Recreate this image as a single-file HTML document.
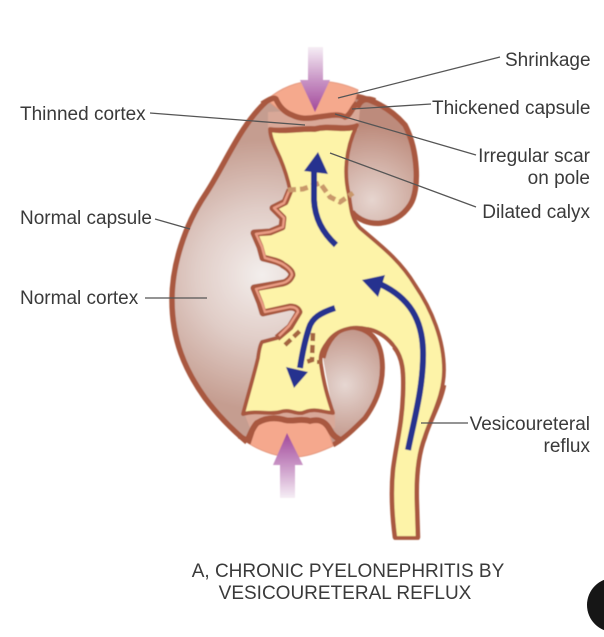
<!DOCTYPE html>
<html>
<head>
<meta charset="utf-8">
<style>
html,body{margin:0;padding:0;background:#fff;}
svg{display:block;}
text{font-family:"Liberation Sans",sans-serif;font-size:19px;fill:#3a3a3a;}
</style>
</head>
<body>
<svg width="604" height="637" viewBox="0 0 604 637" xmlns="http://www.w3.org/2000/svg">
<defs>
<radialGradient id="c1" gradientUnits="userSpaceOnUse" cx="262" cy="275" r="135">
<stop offset="0" stop-color="#f3eeec"/>
<stop offset="0.5" stop-color="#e0ccc6"/>
<stop offset="1" stop-color="#c59d90"/>
</radialGradient>
<radialGradient id="c2" gradientUnits="userSpaceOnUse" cx="372" cy="200" r="75">
<stop offset="0" stop-color="#e6d5cf"/>
<stop offset="1" stop-color="#bd8b7c"/>
</radialGradient>
<radialGradient id="c3" gradientUnits="userSpaceOnUse" cx="345" cy="385" r="65">
<stop offset="0" stop-color="#e6d7d2"/>
<stop offset="1" stop-color="#bd8d7f"/>
</radialGradient>
<linearGradient id="a1" x1="0" y1="47" x2="0" y2="112" gradientUnits="userSpaceOnUse">
<stop offset="0" stop-color="#f6eef5"/>
<stop offset="0.5" stop-color="#c996c6"/>
<stop offset="1" stop-color="#a2489a"/>
</linearGradient>
<linearGradient id="a2" x1="0" y1="498" x2="0" y2="433" gradientUnits="userSpaceOnUse">
<stop offset="0" stop-color="#f6eef5"/>
<stop offset="0.5" stop-color="#c996c6"/>
<stop offset="1" stop-color="#a2489a"/>
</linearGradient>
<filter id="b"><feGaussianBlur stdDeviation="0.5"/></filter>
</defs>

<g filter="url(#b)">
<!-- cortex body -->
<path d="M315 81 C295 81 275 90 262 104 C240 125 225 165 205 195 C185 225 172 265 172 300 C172 340 185 370 205 398 C220 418 235 432 247 442 L335 444 L322 360 L300 250 L350 218 L352 100 Z" fill="url(#c1)"/>
<path d="M355 96 C375 100 392 110 405 125 C418 150 420 190 410 205 C395 228 365 228 352 212 L345 170 L350 120 Z" fill="url(#c2)"/>
<path d="M323 358 C327 340 338 328 350 327 C370 328 380 340 382 360 C384 380 378 400 365 418 C355 428 345 438 333 445 L326 424 L333 413 Z" fill="url(#c3)"/>
<!-- pale bands between scar and pelvis -->
<path d="M268 112 L360 108 L358 130 L268 132 Z" fill="#d9a898"/>
<path d="M243 410 L335 410 L335 428 L250 428 Z" fill="#d9a898"/>

<!-- outer capsule -->
<path d="M267 101 C240 125 225 165 205 195 C185 225 172 265 172 300 C172 340 185 370 205 398 C220 418 235 432 247 442" fill="none" stroke="#a9593f" stroke-width="5.5"/>
<path d="M333 445 C345 438 355 428 365 418 C378 400 384 380 382 360 C380 340 370 328 350 327 C338 328 327 340 323 358" fill="none" stroke="#a9593f" stroke-width="5"/>
<path d="M355 96 C375 100 392 110 405 125 C418 150 420 190 410 205 C395 228 365 228 352 212" fill="none" stroke="#a9593f" stroke-width="5.5"/>

<!-- pink caps -->
<path d="M267 100 C280 88 298 81 315 81 C330 81 345 84 358 90 L352 110 L345 116 L310 120 L285 114 L272 104 Z" fill="#f5a98d" stroke="#e59a80" stroke-width="1"/>
<path d="M248 443 C262 452 280 458 297 457 C310 456 322 451 333 446 L326 424 L300 418 L262 422 L252 428 Z" fill="#f5a88d" stroke="#e59a80" stroke-width="1"/>

<!-- top scar -->
<path d="M262 104 C270 99 274 97 276 99 C279 106 284 112 292 115 C300 119 307 119 318 117 C328 116 338 113 345 117 C350 116 352 108 357 103" fill="none" stroke="#a9593f" stroke-width="5.5"/>
<path d="M357 108 C360 100 365 97 375 101" fill="none" stroke="#a9593f" stroke-width="6"/>
<!-- bottom scar -->
<path d="M247 441 C250 436 252 428 257 423 C265 418 275 417 285 420 C293 422 300 418 310 421 C318 419 325 420 330 430 C333 436 337 438 342 441" fill="none" stroke="#a9593f" stroke-width="6"/>
<path d="M239 436 L249 441 L252 432" fill="none" stroke="#a9593f" stroke-width="5"/>

<!-- pelvis + ureter -->
<path d="M270 129 C285 131 300 127 315 128 C330 124 345 130 357 125 C345 150 344 175 349 195 C351 210 352 220 360 228 C380 245 400 260 415 285 C432 310 444 340 444 370 C444 395 432 415 425 437 C418 455 416 480 417 505 L418 538 L395 538 C392 515 391 490 393 470 C396 445 402 425 403 395 C404 370 402 355 393 345 C385 335 375 330 367 329 C352 325 335 330 327 343 C320 352 320 358 321 365 C324 385 328 398 333 413 C322 412 315 408 305 412 C297 416 290 408 280 412 C270 415 258 410 243 414 C248 395 254 375 258 358 C259 350 260 345 262 342 L277 338 L290 327 L299 312 L290 307 L263 313 L260 303 L254 288 L283 283 L292 275 L283 265 L263 258 L260 247 L254 233 L270 232 L282 227 L283 218 L273 208 L285 202 L290 190 C288 180 285 170 280 158 C275 147 270 138 270 129 Z" fill="#fdf3a8" stroke="#a9593f" stroke-width="3.8" stroke-linejoin="round"/>

<!-- calyx double wall -->
<path d="M290 190 L285 202 L273 208 L283 218 L282 227 L270 232 L254 233 L260 247 L263 258 C272 260 280 262 283 265 C290 269 292 272 292 275 C290 280 287 282 283 283 L254 288 L260 303 L263 313 L290 307 C295 307 298 309 299 312 L290 327 L277 338" fill="none" stroke="#a9593f" stroke-width="7" stroke-linejoin="round"/>
<path d="M289 191 L284 203 L274 208 L284 218 L283 227 L270 232 L256 234 L262 247 L265 258 C272 260 280 262 284 265 C290 269 292 272 292 275 C290 280 287 282 283 283 L256 289 L262 303 L265 312 L290 307 C295 307 298 309 298 312 L289 326 L279 336" fill="none" stroke="#ea9c84" stroke-width="2.4" stroke-linejoin="round"/>
<path d="M270 130 C285 133 300 129 315 130 C330 126 345 132 356 127" fill="none" stroke="#a9593f" stroke-width="4"/>

<!-- ureter wall thicker -->
<path d="M393 345 C385 335 375 330 367 329" fill="none" stroke="#a9593f" stroke-width="4"/>
<path d="M394 347 C403 358 404 372 403 395 C402 425 396 445 393 470 C391 490 392 515 395 538" fill="none" stroke="#a9593f" stroke-width="4.5"/>
<path d="M444 385 C440 405 430 420 425 437 C418 455 416 480 417 505 L418 538" fill="none" stroke="#a9593f" stroke-width="4.5"/>

<!-- dashed -->
<path d="M288 190 L303 189 L320 183 L330 197 L340 202 L353 193" fill="none" stroke="#c9986a" stroke-width="5" stroke-dasharray="8 4"/>
<path d="M285 345 L302 329" fill="none" stroke="#a5653f" stroke-width="4.5" stroke-dasharray="8 4"/>
<path d="M313 333 L312 360 L306 362" fill="none" stroke="#a5653f" stroke-width="4.5" stroke-dasharray="8 4"/>
<path d="M317 362 L322 362" fill="none" stroke="#a5653f" stroke-width="4"/>

<!-- purple arrows -->
<path d="M308 47 H323 V80 H330 L315 112 L300 80 H308 Z" fill="url(#a1)"/>
<path d="M280 498 H295 V465 H303 L287 433 L273 465 H280 Z" fill="url(#a2)"/>

<!-- blue arrows -->
<g fill="none" stroke="#25308f" stroke-width="6">
<path d="M336 245 C322 232 315 218 314 200 L314 170"/>
<path d="M335 308 C320 313 312 318 309 328 C305 340 302 355 300 368"/>
<path d="M408 450 C414 420 424 385 423 350 C422 320 410 298 380 284"/>
</g>
<g fill="#25308f">
<path d="M318 152 L304 171 L328 174 Z"/>
<path d="M294 388 L286 367 L308 372 Z"/>
<path d="M362 280 L385 275 L378 297 Z"/>
</g>
</g>

<!-- leaders -->
<g stroke="#555" stroke-width="1.3" fill="none">
<path d="M500 57 L338 98"/>
<path d="M431 104 L352 109"/>
<path d="M150 113 L305 125"/>
<path d="M476 155 L335 114"/>
<path d="M476 207 L330 153"/>
<path d="M155 219 L190 229"/>
<path d="M145 298 L207 298"/>
<path d="M468 423 L421 423"/>
</g>

<!-- labels -->
<text x="505" y="66">Shrinkage</text>
<text x="432" y="114">Thickened capsule</text>
<text x="20" y="120">Thinned cortex</text>
<text x="590" y="162" text-anchor="end">Irregular scar</text>
<text x="590" y="184" text-anchor="end">on pole</text>
<text x="590" y="218" text-anchor="end">Dilated calyx</text>
<text x="20" y="224">Normal capsule</text>
<text x="20" y="304">Normal cortex</text>
<text x="590" y="430" text-anchor="end">Vesicoureteral</text>
<text x="590" y="452" text-anchor="end">reflux</text>
<text x="348" y="577" text-anchor="middle">A, CHRONIC PYELONEPHRITIS BY</text>
<text x="345" y="599" text-anchor="middle">VESICOURETERAL REFLUX</text>

<circle cx="614" cy="605" r="27" fill="#161616"/>
</svg>
</body>
</html>
